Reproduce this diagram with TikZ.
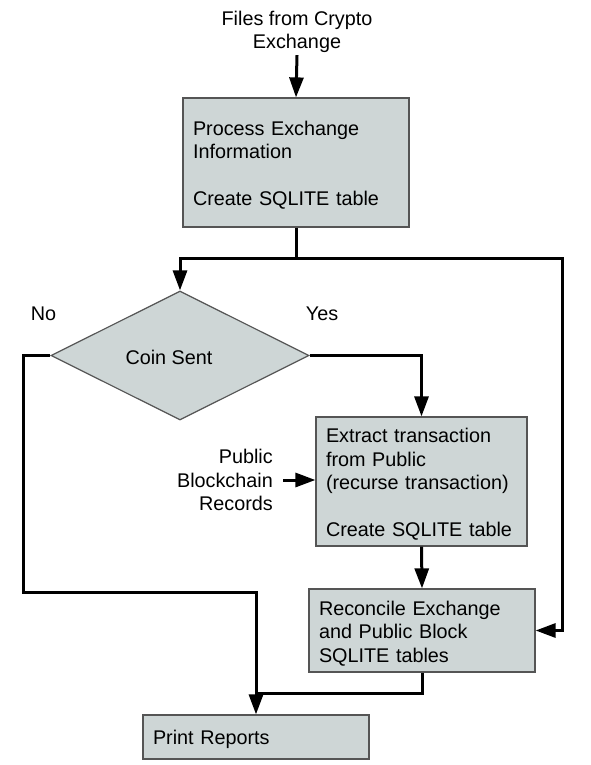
\documentclass[tikz,border=0pt]{standalone}
\usepackage{fontspec}
\setmainfont{Liberation Sans}
\usetikzlibrary{arrows.meta,shapes.geometric}
\definecolor{boxfill}{RGB}{206,214,214}
\definecolor{boxline}{RGB}{85,85,85}
\newcommand{\toprule}{\rule{0pt}{20pt}}
\tikzset{
	box/.style={draw=boxline, fill=boxfill, line width=1.2pt, align=left, inner xsep=10pt, inner ysep=0pt, minimum height=#1},
	flow/.style={line width=3pt, -{Triangle[length=20pt,width=14pt]}},
	plain/.style={line width=3pt},
}
\begin{document}
\begin{tikzpicture}[x=1pt, y=-1pt, font=\fontsize{19.8}{23.5}\selectfont]
		\useasboundingbox (0,0) rectangle (591,765);
		
		\node[align=center, inner sep=2pt] (title) at (297, 32) {Files from Crypto\\Exchange};
		\node[box=129pt, text width=206pt] (proc) at (296, 162.5) {\toprule Process Exchange\\Information\\[23.5pt]Create SQLITE table};
		\node[draw=boxline, fill=boxfill, line width=1.2pt, diamond, minimum width=258pt, minimum height=129pt, inner sep=0pt, label={[xshift=-11pt, yshift=-2pt]center:Coin Sent}] (coin) at (180, 355.5) {};
		\node[box=129pt, text width=191pt] (extract) at (421.5, 481.5) {\toprule Extract transaction\\from Public\\(recurse transaction)\\[23.5pt]Create SQLITE table};
		\node[box=83pt, text width=206pt] (recon) at (422, 630.5) {\toprule Reconcile Exchange\\and Public Block\\SQLITE tables};
		\node[box=44pt, text width=206pt] (report) at (256, 737) {\toprule Print Reports};
		
		\node[anchor=base] (no) at (43.5, 320) {No};
		\node[anchor=base] (yes) at (322, 320) {Yes};
		\node[anchor=east, align=right, inner sep=0pt] (pub) at (273, 480) {Public\\Blockchain\\Records};
		
		\coordinate (split) at (296, 258);
		\coordinate (rturn) at (562, 258);
		\coordinate (nodown) at (23, 592);
		\coordinate (merge) at (256, 693);
		
		\draw[flow] (title.south) -- (proc.north);
		\draw[plain] (proc.south) -- (split);
		\draw[flow] (split) -| (coin.north);
		\draw[flow] (split) -- (rturn) |- (recon.east);
		\draw[flow] (coin.east) -| (extract.north);
		\draw[flow] (coin.west) -| (nodown) -| (report.north);
		\draw[flow] ([xshift=10pt]pub.east) -- (extract.west |- pub.east);
		\draw[flow] (extract.south) -- (recon.north);
		\draw[plain] (recon.south) |- (merge);
\end{tikzpicture}
\end{document}
